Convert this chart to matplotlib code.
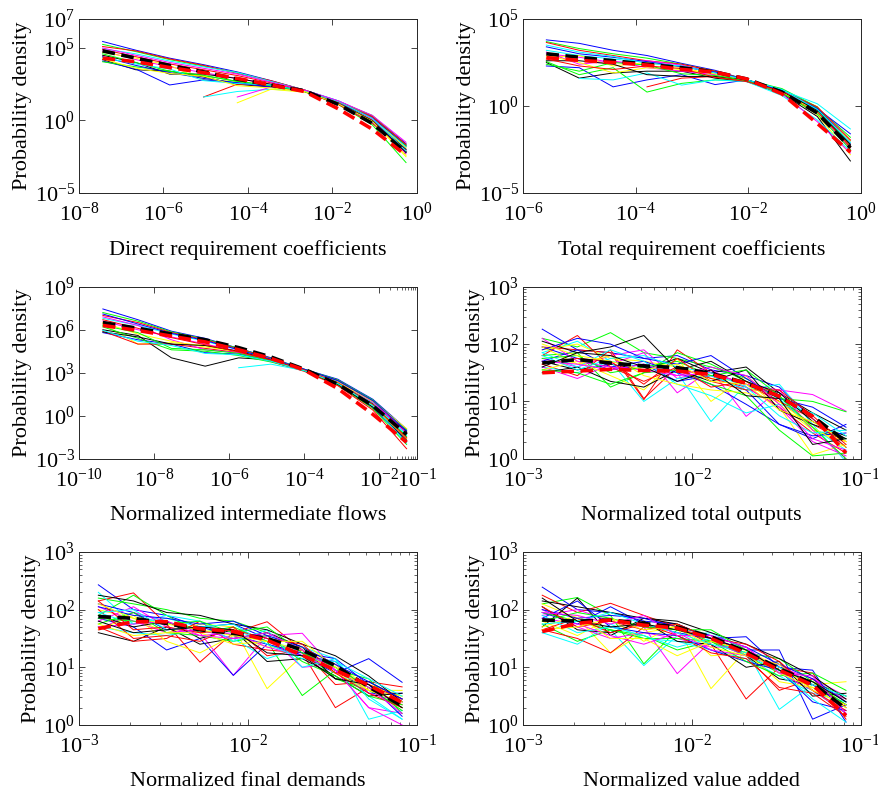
import numpy as np
import matplotlib
matplotlib.use("Agg")
import matplotlib.pyplot as plt
from matplotlib.ticker import FixedLocator, LogLocator, NullLocator, LogFormatterSciNotation

plt.rcParams['font.family'] = ['Liberation Serif', 'DejaVu Serif']
plt.rcParams['mathtext.default'] = 'regular'
plt.rcParams['font.size'] = 14

nan = np.nan

# ---- Direct requirement coefficients (y values are log10 of density) ----
direct_x = [3.6e-8, 2.2e-7, 1.4e-6, 8.9e-6, 5.6e-5, 3.5e-4, 2.2e-3, 1.4e-2, 8.9e-2, 0.56]
direct_logy = [
    [5.45, 4.85, 4.30, 3.85, 3.35, 2.75, 2.10, 1.35, 0.30, -1.60],
    [5.25, 4.75, 4.20, 3.75, 3.30, 2.70, 2.10, 1.30, 0.25, -1.75],
    [5.10, 4.80, 4.25, 3.80, 3.25, 2.75, 2.10, 1.30, 0.30, -1.80],
    [4.95, 4.60, 4.10, 3.70, 3.30, 2.70, 2.10, 1.35, 0.20, -1.90],
    [4.80, 4.20, 3.70, 3.30, 2.90, 2.50, 2.05, 1.20, 0.10, -2.00],
    [4.70, 4.30, 3.80, 2.80, 2.70, 2.40, 2.05, 1.25, 0.15, -1.90],
    [4.20, 3.50, 3.40, 3.00, 2.50, 2.30, 2.00, 1.20, 0.00, -2.00],
    [4.10, 3.55, 2.45, 2.80, 2.60, 2.35, 2.00, 1.15, -0.10, -2.20],
    [4.05, 3.70, 3.40, 3.10, 2.70, 2.40, 2.00, 1.10, -0.30, -2.90],
    [nan, nan, nan, 1.62, 2.50, 2.40, 2.00, 1.10, -0.20, -2.10],
    [nan, nan, nan, 1.62, 2.00, 2.15, 2.05, 1.20, 0.20, -1.80],
    [nan, nan, nan, nan, 1.62, 2.30, 2.05, 1.30, 0.10, -2.30],
    [nan, nan, nan, nan, 1.22, 2.15, 1.95, 1.25, 0.00, -2.50],
    [4.50, 4.00, 3.20, 3.20, 2.90, 2.50, 2.00, 1.20, 0.00, -2.20],
    [4.40, 3.80, 3.30, 2.90, 2.60, 2.30, 2.00, 1.20, 0.20, -1.70],
    [4.60, 4.00, 3.40, 3.10, 2.70, 2.40, 2.00, 1.30, 0.35, -1.70],
    [4.90, 4.40, 3.90, 3.50, 3.10, 2.60, 2.10, 1.25, 0.25, -1.65],
    [4.35, 3.90, 3.55, 2.75, 2.55, 2.45, 2.05, 1.30, 0.15, -2.10],
    [5.00, 4.50, 4.00, 3.60, 3.20, 2.65, 2.10, 1.35, 0.35, -1.50],
    [4.25, 3.60, 3.25, 3.05, 2.40, 2.25, 2.00, 1.15, -0.05, -2.40],
]
direct_red = [4.30, 4.05, 3.65, 3.30, 2.90, 2.45, 2.00, 0.80, -0.60, -2.40]
direct_black = [4.80, 4.30, 3.80, 3.35, 2.85, 2.45, 2.05, 1.10, -0.20, -2.20]

# ---- Total requirement coefficients ----
total_x = [2.6e-6, 1.0e-5, 4.0e-5, 1.6e-4, 6.6e-4, 2.6e-3, 9.5e-3, 4.0e-2, 0.17, 0.66]
total_logy = [
    [3.80, 3.60, 3.20, 2.90, 2.45, 2.05, 1.50, 0.95, -0.10, -2.20],
    [3.70, 3.30, 3.00, 2.75, 2.40, 2.00, 1.50, 1.00, -0.05, -2.30],
    [3.65, 3.20, 2.90, 2.60, 2.40, 2.00, 1.50, 0.90, -0.20, -2.40],
    [3.20, 2.90, 2.70, 2.50, 2.30, 1.90, 1.50, 0.90, 0.13, -1.32],
    [3.00, 2.80, 2.50, 2.60, 2.35, 1.90, 1.45, 0.85, -0.30, -2.50],
    [2.80, 2.90, 2.30, 2.50, 2.20, 1.80, 1.45, 0.80, -0.50, -2.80],
    [2.50, 1.60, 1.90, 2.00, 2.00, 1.60, 1.40, 0.70, -0.60, -3.16],
    [2.30, 2.20, 1.10, 1.50, 1.80, 1.23, 1.50, 0.80, -0.20, -2.00],
    [2.55, 1.80, 2.20, 0.80, 1.30, 1.50, 1.45, 0.70, -0.10, -1.80],
    [nan, nan, nan, 1.10, 1.60, 1.70, 1.45, 0.75, -0.35, -2.30],
    [nan, 1.58, 1.50, 1.90, 1.20, 1.50, 1.40, 0.60, -0.80, -2.60],
    [3.10, 2.40, 2.60, 2.20, 2.00, 1.80, 1.50, 0.70, -0.90, -2.70],
    [2.90, 2.50, 1.90, 2.20, 2.10, 1.85, 1.45, 0.80, -0.30, -2.00],
    [2.60, 2.60, 2.40, 1.80, 1.70, 1.70, 1.50, 0.85, -0.25, -2.20],
    [3.40, 3.00, 2.80, 2.55, 2.25, 1.95, 1.50, 0.90, -0.15, -1.60],
    [2.40, 2.00, 2.50, 2.35, 1.85, 1.75, 1.45, 0.75, -0.45, -2.50],
    [2.70, 2.30, 2.10, 2.30, 2.15, 1.65, 1.40, 0.85, -0.05, -1.95],
    [3.50, 3.10, 2.85, 2.45, 2.30, 1.90, 1.50, 0.95, -0.20, -2.10],
]
total_red = [2.78, 2.62, 2.50, 2.35, 2.10, 1.95, 1.55, 0.70, -1.00, -2.65]
total_black = [3.00, 2.80, 2.60, 2.40, 2.20, 1.95, 1.55, 0.80, -0.40, -2.40]

# ---- Normalized intermediate flows ----
flows_x = [4.3e-10, 3.7e-9, 2.9e-8, 2.3e-7, 1.8e-6, 1.3e-5, 1.0e-4, 7.9e-4, 6.8e-3, 5.4e-2]
flows_logy = [
    [7.45, 6.70, 5.90, 5.40, 4.70, 4.05, 3.25, 2.55, 1.15, -0.93],
    [7.20, 6.60, 5.85, 5.35, 4.70, 4.00, 3.25, 2.50, 1.10, -1.00],
    [7.00, 6.50, 5.80, 5.30, 4.65, 4.00, 3.20, 2.45, 1.00, -1.20],
    [6.80, 6.30, 5.70, 5.20, 4.60, 3.95, 3.20, 2.40, 0.90, -1.30],
    [6.60, 6.00, 5.50, 5.00, 4.50, 3.90, 3.20, 2.30, 0.80, -1.50],
    [6.40, 5.00, 5.10, 4.90, 4.40, 3.85, 3.15, 2.20, 0.70, -1.60],
    [6.00, 5.60, 4.04, 3.46, 4.04, 3.90, 3.20, 2.30, 0.85, -1.10],
    [5.80, 5.30, 5.00, 4.40, 4.30, 3.80, 3.15, 2.20, 0.60, -1.80],
    [6.20, 5.40, 4.60, 4.50, 4.20, 3.75, 3.15, 2.15, 0.50, -2.00],
    [5.90, 5.00, 5.00, 4.70, 4.40, 3.80, 3.10, 2.10, 0.40, -2.30],
    [nan, nan, nan, nan, 3.35, 3.60, 3.15, 2.30, 0.90, -1.40],
    [6.90, 6.30, 5.30, 4.60, 4.40, 3.90, 3.20, 2.35, 0.95, -1.20],
    [6.50, 5.70, 5.20, 4.80, 4.50, 3.95, 3.20, 2.35, 1.00, -0.90],
    [5.85, 5.50, 5.00, 4.90, 4.50, 3.90, 3.15, 2.20, 0.60, -1.70],
    [7.10, 6.40, 5.75, 5.25, 4.60, 3.95, 3.25, 2.45, 1.05, -1.05],
    [6.30, 5.80, 4.70, 4.60, 4.35, 3.85, 3.15, 2.25, 0.75, -1.45],
    [6.70, 6.10, 5.45, 4.95, 4.45, 3.90, 3.20, 2.30, 0.80, -1.55],
    [5.95, 5.20, 4.90, 4.35, 4.25, 3.80, 3.15, 2.25, 0.70, -1.90],
]
flows_red = [6.30, 5.95, 5.55, 5.15, 4.60, 4.00, 3.20, 1.90, 0.10, -1.85]
flows_black = [6.50, 6.10, 5.70, 5.30, 4.75, 4.10, 3.25, 2.20, 0.70, -1.30]

# ---- shared bins for the last three panels ----
norm_x = [1.3e-3, 2.1e-3, 3.3e-3, 5.2e-3, 8.2e-3, 1.3e-2, 2.1e-2, 3.3e-2, 5.2e-2, 8.2e-2]

outputs_logy = [
    [2.26, 1.90, 1.85, 1.75, 1.80, 1.55, 1.45, 1.25, 0.70, 0.20],
    [2.10, 1.95, 2.20, 1.85, 1.75, 1.60, 1.40, 1.10, 0.50, 0.35],
    [1.95, 1.90, 1.85, 1.03, 1.90, 1.50, 1.30, 1.00, 0.60, 0.30],
    [1.85, 2.05, 1.70, 1.60, 1.50, 0.65, 1.30, 1.05, 0.55, 0.15],
    [1.75, 1.60, 1.80, 1.90, 1.40, 1.55, 0.74, 1.20, 1.12, 0.83],
    [1.90, 2.00, 1.75, 1.70, 1.60, 1.40, 1.35, 0.90, 0.07, 0.25],
    [1.70, 1.55, 1.65, 1.55, 1.75, 1.50, 1.60, 1.15, 0.80, 0.50],
    [1.95, 1.75, 1.55, 1.65, 1.35, 1.45, 1.20, 0.60, 0.35, 0.60],
    [1.80, 1.85, 1.25, 1.50, 1.85, 1.65, 1.35, 1.05, 1.00, 0.82],
    [1.65, 1.45, 1.90, 1.05, 1.60, 1.40, 1.25, 0.90, 0.45, 0.10],
    [1.60, 1.50, 1.70, 1.00, 1.40, 1.45, 1.20, 1.30, 0.60, -0.05],
    [1.60, 1.40, 1.65, 1.85, 1.15, 1.55, 1.25, 0.90, 0.30, 0.05],
    [1.55, 1.70, 1.45, 1.20, 1.75, 1.00, 1.45, 0.95, 0.50, 0.30],
    [1.50, 1.60, 1.35, 1.25, 1.55, 1.35, 1.55, 0.85, 0.60, 0.40],
    [1.70, 1.90, 1.60, 1.70, 1.50, 1.30, 0.95, 0.60, 0.40, 0.45],
    [1.55, 1.50, 1.30, 1.50, 1.55, 1.30, 1.10, 0.50, 0.05, 0.10],
    [1.80, 2.15, 1.60, 1.35, 1.60, 1.25, 1.35, 1.00, 0.70, 0.20],
    [1.85, 1.60, 1.90, 1.70, 1.30, 1.10, 0.80, 0.95, 0.80, 0.40],
    [2.10, 1.70, 1.60, 1.55, 1.45, 1.50, 1.30, 1.20, 0.50, 0.00],
    [1.95, 1.65, 1.80, 1.45, 1.30, 1.20, 1.15, 1.00, 0.55, 0.20],
    [2.05, 1.85, 1.95, 2.15, 1.55, 1.70, 1.35, 1.15, 0.65, 0.35],
    [1.90, 2.10, 2.00, 1.75, 1.65, 1.80, 1.40, 1.05, 0.90, 0.55],
    [1.75, 1.80, 1.50, 1.60, 1.70, 1.45, 1.55, 1.10, 0.55, 0.00],
    [1.65, 1.75, 1.70, 1.30, 1.75, 1.35, 1.20, 1.20, 0.75, 0.25],
    [1.80, 1.55, 1.75, 1.80, 1.60, 1.50, 1.25, 0.75, 0.45, 0.50],
    [1.70, 1.65, 1.55, 1.65, 1.45, 1.60, 1.45, 0.95, 0.35, 0.15],
    [2.00, 1.80, 1.70, 1.55, 1.65, 1.35, 1.30, 0.85, 0.65, 0.30],
    [1.60, 1.85, 1.80, 1.60, 1.35, 1.55, 1.10, 1.05, 0.25, 0.35],
]
outputs_red = [1.50, 1.53, 1.56, 1.54, 1.53, 1.47, 1.32, 1.09, 0.74, 0.10]
outputs_black = [1.67, 1.73, 1.67, 1.62, 1.59, 1.49, 1.32, 1.09, 0.74, 0.30]

demands_logy = [
    [2.43, 2.00, 1.90, 1.70, 1.75, 1.50, 1.20, 0.90, 1.15, 0.74],
    [2.20, 2.10, 2.00, 1.85, 1.80, 1.60, 1.30, 0.80, 0.60, 0.30],
    [2.15, 2.29, 1.75, 1.09, 1.60, 1.79, 1.30, 0.70, 0.75, 0.66],
    [2.30, 1.75, 1.85, 1.70, 1.65, 1.45, 1.30, 1.00, 0.50, 0.10],
    [1.65, 1.95, 1.80, 1.60, 0.86, 1.55, 1.59, 0.95, 0.30, 0.20],
    [2.00, 1.85, 1.60, 1.75, 1.70, 0.63, 1.20, 1.00, 0.70, 0.50],
    [1.60, 1.45, 1.70, 1.40, 1.50, 1.60, 1.35, 0.80, 0.75, 0.45],
    [1.85, 1.70, 1.30, 1.50, 0.86, 1.40, 1.20, 1.10, 0.55, 0.55],
    [1.90, 2.25, 1.90, 1.60, 1.70, 1.45, 0.51, 0.95, 0.80, 0.20],
    [1.70, 1.45, 1.50, 1.80, 1.40, 1.30, 1.25, 0.30, 0.65, 0.35],
    [1.70, 1.60, 1.55, 1.65, 1.50, 1.15, 1.35, 1.15, 0.10, 0.25],
    [2.05, 1.80, 1.60, 1.65, 1.50, 1.55, 1.00, 1.05, 0.55, 0.40],
    [1.65, 1.90, 1.45, 1.25, 1.55, 1.35, 1.35, 1.05, 0.60, 0.50],
    [1.90, 1.70, 1.80, 1.50, 1.65, 1.10, 1.15, 0.85, 0.50, 0.55],
    [2.10, 1.95, 1.65, 1.70, 1.55, 1.40, 1.25, 1.15, 0.70, 0.15],
    [1.75, 1.95, 1.60, 1.55, 1.45, 1.55, 1.10, 0.85, 0.50, 0.35],
    [2.00, 1.50, 1.55, 1.45, 1.70, 1.20, 1.30, 0.90, 0.70, 0.45],
    [1.95, 1.75, 1.90, 1.80, 1.45, 1.65, 1.00, 1.15, 0.45, 0.10],
    [1.80, 2.05, 1.70, 1.55, 1.60, 1.35, 1.20, 0.95, 0.30, 0.00],
    [1.75, 1.55, 1.60, 1.60, 1.40, 1.45, 1.30, 0.90, 0.60, 0.60],
    [2.25, 2.15, 1.95, 1.90, 1.75, 1.65, 1.40, 1.20, 0.85, 0.40],
    [2.05, 1.90, 1.85, 1.75, 1.80, 1.55, 1.35, 1.05, 0.75, 0.45],
    [1.85, 1.80, 1.75, 1.80, 1.60, 1.70, 1.25, 1.00, 0.65, 0.25],
    [2.15, 1.65, 1.70, 1.60, 1.65, 1.50, 1.40, 0.90, 0.55, 0.30],
    [1.95, 2.00, 1.65, 1.70, 1.75, 1.40, 1.15, 1.10, 0.80, 0.50],
    [1.70, 1.75, 1.80, 1.55, 1.50, 1.60, 1.30, 0.95, 0.65, 0.20],
    [2.10, 1.85, 1.75, 1.65, 1.55, 1.45, 1.45, 1.00, 0.60, 0.40],
    [1.80, 1.60, 1.65, 1.70, 1.65, 1.25, 1.20, 0.80, 0.70, 0.30],
]
demands_red = [1.67, 1.79, 1.79, 1.67, 1.62, 1.47, 1.21, 0.95, 0.69, 0.39]
demands_black = [1.88, 1.85, 1.76, 1.65, 1.59, 1.50, 1.30, 1.03, 0.66, 0.33]

value_logy = [
    [2.39, 2.00, 1.95, 1.80, 1.75, 1.50, 1.30, 1.30, 0.10, 0.35],
    [2.10, 2.21, 1.90, 1.06, 1.65, 1.45, 1.20, 0.90, 0.60, 0.20],
    [2.25, 1.95, 2.11, 1.90, 1.70, 1.40, 0.45, 1.00, 0.90, 0.10],
    [1.60, 1.80, 1.65, 1.03, 1.55, 1.60, 1.30, 0.27, 0.70, 0.30],
    [1.90, 2.00, 1.80, 1.70, 0.89, 1.45, 1.20, 1.00, 0.80, 0.50],
    [2.10, 1.85, 1.25, 1.60, 1.70, 0.63, 1.30, 1.00, 0.70, 0.75],
    [1.70, 2.20, 1.55, 1.85, 1.75, 1.50, 1.20, 0.80, 0.70, 0.35],
    [1.95, 1.75, 2.05, 1.75, 1.60, 1.50, 1.53, 1.00, 0.95, 0.05],
    [1.75, 1.45, 1.65, 1.55, 1.30, 1.45, 1.25, 1.15, 0.75, 0.50],
    [1.65, 1.50, 1.25, 1.70, 1.65, 1.55, 1.20, 0.60, 0.80, 0.30],
    [1.60, 1.40, 1.75, 1.50, 1.45, 1.30, 1.15, 0.85, 0.55, 0.40],
    [2.00, 1.70, 1.50, 1.60, 1.50, 1.35, 1.35, 0.90, 0.60, 0.20],
    [1.80, 1.55, 1.85, 1.45, 1.75, 1.20, 1.25, 0.75, 0.65, 0.45],
    [2.05, 1.65, 1.60, 1.80, 1.45, 1.40, 1.00, 1.10, 0.50, 0.55],
    [1.85, 2.15, 1.70, 1.60, 1.55, 1.30, 1.10, 0.95, 0.40, 0.25],
    [1.95, 1.80, 1.65, 1.50, 1.50, 1.45, 1.10, 0.85, 0.90, 0.60],
    [1.65, 1.85, 1.60, 1.75, 1.55, 1.25, 1.15, 0.65, 0.55, 0.15],
    [1.90, 1.60, 1.70, 1.55, 1.35, 1.50, 1.20, 0.95, 0.45, 0.05],
    [1.85, 1.75, 1.55, 1.40, 1.60, 1.30, 1.20, 1.05, 0.70, 0.45],
    [1.70, 1.90, 1.50, 1.50, 1.20, 1.45, 1.30, 0.90, 0.65, 0.30],
    [2.15, 2.05, 1.95, 1.85, 1.80, 1.60, 1.40, 1.15, 0.85, 0.45],
    [2.00, 1.85, 1.90, 1.85, 1.70, 1.55, 1.35, 1.05, 0.80, 0.40],
    [1.80, 1.95, 1.85, 1.70, 1.65, 1.65, 1.30, 0.95, 0.75, 0.35],
    [2.05, 1.70, 1.80, 1.65, 1.75, 1.50, 1.40, 1.10, 0.60, 0.25],
    [1.75, 1.80, 1.95, 1.75, 1.60, 1.40, 1.25, 1.00, 0.70, 0.50],
    [1.95, 1.90, 1.75, 1.90, 1.55, 1.55, 1.35, 0.90, 0.85, 0.20],
    [1.65, 1.70, 1.85, 1.65, 1.70, 1.35, 1.20, 1.05, 0.60, 0.35],
    [2.20, 1.80, 1.70, 1.75, 1.65, 1.50, 1.30, 0.95, 0.75, 0.40],
]
value_red = [1.62, 1.76, 1.82, 1.73, 1.68, 1.50, 1.24, 0.95, 0.69, 0.16]
value_black = [1.82, 1.80, 1.82, 1.76, 1.70, 1.53, 1.27, 0.98, 0.72, 0.28]

# MATLAB style pure colours
line_colors = ['#0000ff', '#00ff00', '#ff0000', '#00ffff', '#ff00ff', '#ffff00', '#000000']
frame_gray = '#262626'


def draw_panel(ax, x, lines, red, black, xlim, ylim, xticks, yticks, xlabel,
               minor=False, minor_x=None):
    for i, ly in enumerate(lines):
        ax.plot(x, 10 ** np.array(ly), color=line_colors[i % len(line_colors)], lw=0.7)
    ax.plot(x, 10 ** np.array(black), color='black', lw=2.6, ls=(0, (3.5, 1.8)))
    ax.plot(x, 10 ** np.array(red), color='red', lw=2.6, ls=(0, (3.5, 1.8)))
    ax.set_xscale('log')
    ax.set_yscale('log')
    ax.set_xlim(*xlim)
    ax.set_ylim(*ylim)
    ax.xaxis.set_major_locator(FixedLocator(xticks))
    ax.yaxis.set_major_locator(FixedLocator(yticks))
    ax.xaxis.set_major_formatter(LogFormatterSciNotation())
    ax.yaxis.set_major_formatter(LogFormatterSciNotation())
    if minor:
        ax.xaxis.set_minor_locator(LogLocator(subs=np.arange(2, 10)))
        ax.yaxis.set_minor_locator(LogLocator(subs=np.arange(2, 10)))
    else:
        ax.xaxis.set_minor_locator(FixedLocator(minor_x) if minor_x else NullLocator())
        ax.yaxis.set_minor_locator(NullLocator())
    ax.tick_params(which='both', direction='in', top=True, right=True,
                   color=frame_gray, labelsize=16)
    ax.tick_params(axis='x', pad=7)
    ax.tick_params(axis='y', pad=3)
    ax.tick_params(which='major', length=4.5, width=0.6)
    ax.tick_params(which='minor', length=2.5, width=0.5)
    for s in ax.spines.values():
        s.set_color(frame_gray)
        s.set_linewidth(0.7)
    ax.set_xlabel(xlabel, fontsize=16, labelpad=10)
    ax.set_ylabel('Probability density', fontsize=16, labelpad=2)


fig = plt.figure(figsize=(8.79, 7.91), dpi=100)
col_left = [0.090, 0.595]
col_w = 0.384
rows = [(0.756, 0.220), (0.420, 0.2175), (0.0835, 0.2187)]

ax1 = fig.add_axes([col_left[0], rows[0][0], col_w, rows[0][1]])
draw_panel(ax1, direct_x, direct_logy, direct_red, direct_black,
           (1e-8, 1e0), (1e-5, 1e7), [1e-8, 1e-6, 1e-4, 1e-2, 1e0],
           [1e-5, 1e0, 1e5, 1e7], 'Direct requirement coefficients')

ax2 = fig.add_axes([col_left[1], rows[0][0], col_w, rows[0][1]])
draw_panel(ax2, total_x, total_logy, total_red, total_black,
           (1e-6, 1e0), (1e-5, 1e5), [1e-6, 1e-4, 1e-2, 1e0],
           [1e-5, 1e0, 1e5], 'Total requirement coefficients')

ax3 = fig.add_axes([col_left[0], rows[1][0], col_w, rows[1][1]])
draw_panel(ax3, flows_x, flows_logy, flows_red, flows_black,
           (1e-10, 1e-1), (1e-3, 1e9), [1e-10, 1e-8, 1e-6, 1e-4, 1e-2, 1e-1],
           [1e-3, 1e0, 1e3, 1e6, 1e9], 'Normalized intermediate flows',
           minor_x=[k * 1e-2 for k in range(2, 10)])

ax4 = fig.add_axes([col_left[1], rows[1][0], col_w, rows[1][1]])
draw_panel(ax4, norm_x, outputs_logy, outputs_red, outputs_black,
           (1e-3, 1e-1), (1e0, 1e3), [1e-3, 1e-2, 1e-1],
           [1e0, 1e1, 1e2, 1e3], 'Normalized total outputs', minor=True)

ax5 = fig.add_axes([col_left[0], rows[2][0], col_w, rows[2][1]])
draw_panel(ax5, norm_x, demands_logy, demands_red, demands_black,
           (1e-3, 1e-1), (1e0, 1e3), [1e-3, 1e-2, 1e-1],
           [1e0, 1e1, 1e2, 1e3], 'Normalized final demands', minor=True)

ax6 = fig.add_axes([col_left[1], rows[2][0], col_w, rows[2][1]])
draw_panel(ax6, norm_x, value_logy, value_red, value_black,
           (1e-3, 1e-1), (1e0, 1e3), [1e-3, 1e-2, 1e-1],
           [1e0, 1e1, 1e2, 1e3], 'Normalized value added', minor=True)

fig.savefig('out.png', dpi=100)
